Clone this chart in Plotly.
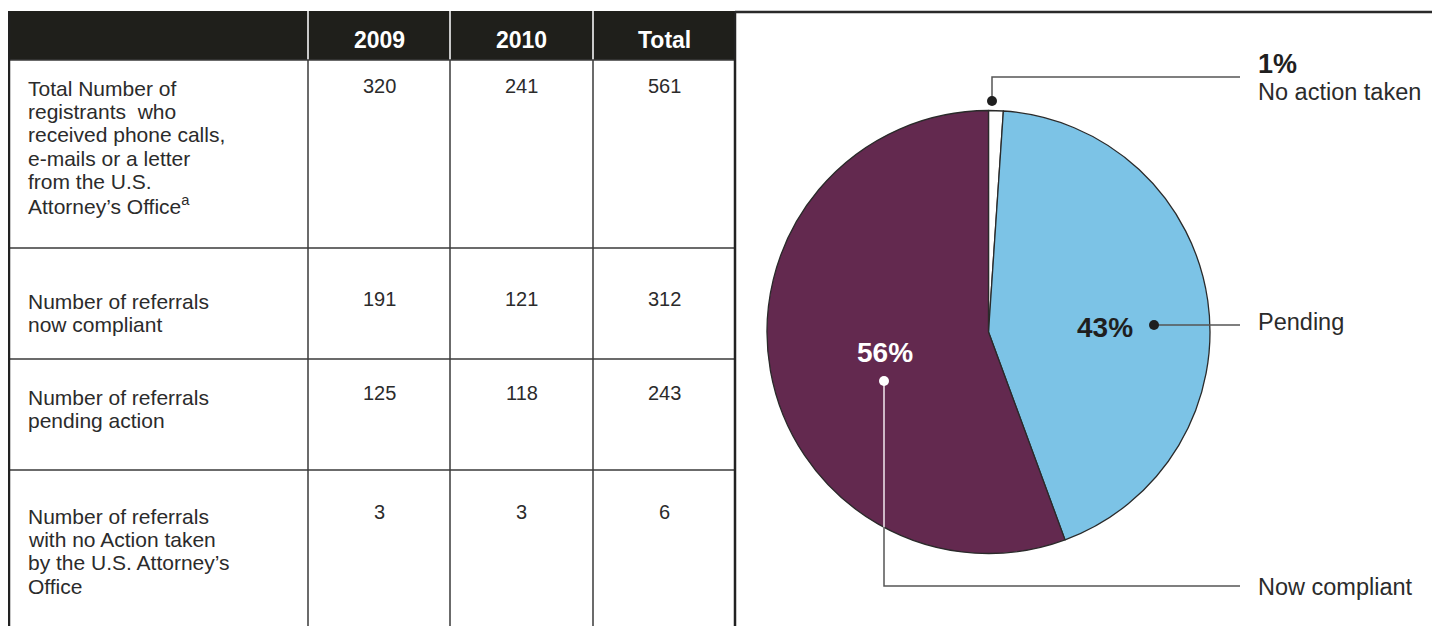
import plotly.graph_objects as go

# table data
columns = ["2009", "2010", "Total"]
row_labels = [
    "Total Number of<br>registrants  who<br>received phone calls,<br>e-mails or a letter<br>from the U.S.<br>Attorney’s Office<sup>a</sup>",
    "Number of referrals<br>now compliant",
    "Number of referrals<br>pending action",
    "Number of referrals<br>with no Action taken<br>by the U.S. Attorney’s<br>Office",
]
values_2009 = [320, 191, 125, 3]
values_2010 = [241, 121, 118, 3]
totals = [561, 312, 243, 6]

# pie data (clockwise from 12 o'clock)
pie_labels = ["No action taken", "Pending", "Now compliant"]
pie_values = [totals[3], totals[2], totals[1]]
pie_colors = ["#ffffff", "#7cc3e6", "#63294f"]

FONT = "Liberation Sans, Arial, sans-serif"
TXT = "#2b2b2b"
W, H = 1440, 626
OFF = 8  # page body margin of the browser

# table geometry (pixels)
col_edges = [9, 308, 450, 593, 735]
header_top, header_bot = 11, 60
row_edges = [60, 248, 359, 470, 626]
label_y0 = [88, 301, 397, 516]
number_y = [86, 299, 393, 512]
line_step = 23.4

fig = go.Figure()

# invisible pixel axes so the table can be laid out in screen units
fig.add_trace(go.Scatter(x=[OFF, W], y=[OFF, H], mode="markers",
                         marker=dict(opacity=0), hoverinfo="skip", showlegend=False))

# pie
pw, ph = W - OFF, H - OFF
cx, cy, r = 988.5, 332, 221.5
fig.add_trace(go.Pie(
    labels=pie_labels, values=pie_values, sort=False, direction="clockwise",
    rotation=0, textinfo="none", showlegend=False,
    marker=dict(colors=pie_colors, line=dict(color="#2a2a2a", width=1.3)),
    domain=dict(x=[(cx - r - OFF) / pw, (cx + r - OFF) / pw],
                y=[(H - cy - r) / ph, (H - cy + r) / ph]),
))

shapes = []
annotations = []

# header band
shapes.append(dict(type="rect", x0=col_edges[0], x1=col_edges[-1], y0=header_top, y1=header_bot,
                   fillcolor="#1f1f1b", line=dict(width=0), layer="below"))
for x in col_edges[1:-1]:
    shapes.append(dict(type="line", x0=x, x1=x, y0=header_top, y1=header_bot,
                       line=dict(color="#c8c8c8", width=2)))
    shapes.append(dict(type="line", x0=x, x1=x, y0=header_bot, y1=H,
                       line=dict(color="#3a3a3a", width=1.5)))
for y in row_edges[:-1]:
    shapes.append(dict(type="line", x0=col_edges[0], x1=col_edges[-1], y0=y, y1=y,
                       line=dict(color="#3a3a3a", width=1.5)))
# outer borders
for x in (col_edges[0], col_edges[-1]):
    shapes.append(dict(type="line", x0=x, x1=x, y0=header_top, y1=H,
                       line=dict(color="#222222", width=2.5)))
shapes.append(dict(type="line", x0=col_edges[-1], x1=W, y0=12, y1=12,
                   line=dict(color="#2a2a2a", width=2.5)))

# header text
for i, c in enumerate(columns):
    xc = (col_edges[i + 1] + col_edges[i + 2]) / 2
    annotations.append(dict(x=xc, y=(header_top + header_bot) / 2 + 4, text=f"<b>{c}</b>",
                            showarrow=False, font=dict(family=FONT, size=23, color="white")))

# body text
for ri, label in enumerate(row_labels):
    for li, line in enumerate(label.split("<br>")):
        annotations.append(dict(x=26, y=label_y0[ri] + li * line_step, text=line, xanchor="left",
                                showarrow=False, font=dict(family=FONT, size=21, color=TXT)))
    for ci, vals in enumerate([values_2009, values_2010, totals]):
        xc = (col_edges[ci + 1] + col_edges[ci + 2]) / 2
        annotations.append(dict(x=xc, y=number_y[ri], text=str(vals[ri]), showarrow=False,
                                font=dict(family=FONT, size=20, color=TXT)))

# pie labels
total = sum(pie_values)
pct = [f"{round(100 * v / total)}%" for v in pie_values]

# no action taken
shapes.append(dict(type="path", path="M992,101 V77 H1240", line=dict(color="#555555", width=1.5)))
shapes.append(dict(type="circle", x0=987, x1=997, y0=96, y1=106, fillcolor="#1f1f1f", line=dict(width=0)))
annotations.append(dict(x=1256, y=64, text=f"<b>{pct[0]}</b>", xanchor="left", showarrow=False,
                        font=dict(family=FONT, size=27, color="#1f1f1f")))
annotations.append(dict(x=1256, y=92, text=pie_labels[0], xanchor="left", showarrow=False,
                        font=dict(family=FONT, size=23.5, color=TXT)))

# pending
shapes.append(dict(type="line", x0=1154, x1=1240, y0=325, y1=325, line=dict(color="#555555", width=1.5)))
shapes.append(dict(type="circle", x0=1149, x1=1159, y0=320, y1=330, fillcolor="#1f1f1f", line=dict(width=0)))
annotations.append(dict(x=1105, y=327, text=f"<b>{pct[1]}</b>", showarrow=False,
                        font=dict(family=FONT, size=28, color="#1f1f1f")))
annotations.append(dict(x=1256, y=322, text=pie_labels[1], xanchor="left", showarrow=False,
                        font=dict(family=FONT, size=23.5, color=TXT)))

# now compliant
edge_y = cy + (r ** 2 - (884 - cx) ** 2) ** 0.5
shapes.append(dict(type="path", path=f"M884,{edge_y:.1f} V586 H1240", line=dict(color="#555555", width=1.5)))
shapes.append(dict(type="line", x0=884, x1=884, y0=381, y1=edge_y, line=dict(color="#f3e8ef", width=1.5)))
shapes.append(dict(type="circle", x0=879, x1=889, y0=376, y1=386, fillcolor="#ffffff", line=dict(width=0)))
annotations.append(dict(x=885, y=352, text=f"<b>{pct[2]}</b>", showarrow=False,
                        font=dict(family=FONT, size=28, color="#ffffff")))
annotations.append(dict(x=1256, y=587, text=pie_labels[2], xanchor="left", showarrow=False,
                        font=dict(family=FONT, size=23.5, color=TXT)))

fig.update_layout(
    width=pw, height=ph,
    margin=dict(l=0, r=0, t=0, b=0),
    paper_bgcolor="white", plot_bgcolor="white",
    xaxis=dict(range=[OFF, W], visible=False, fixedrange=True),
    yaxis=dict(range=[H, OFF], visible=False, fixedrange=True),
    shapes=shapes, annotations=annotations,
    showlegend=False,
)

fig.write_html("out.html")
